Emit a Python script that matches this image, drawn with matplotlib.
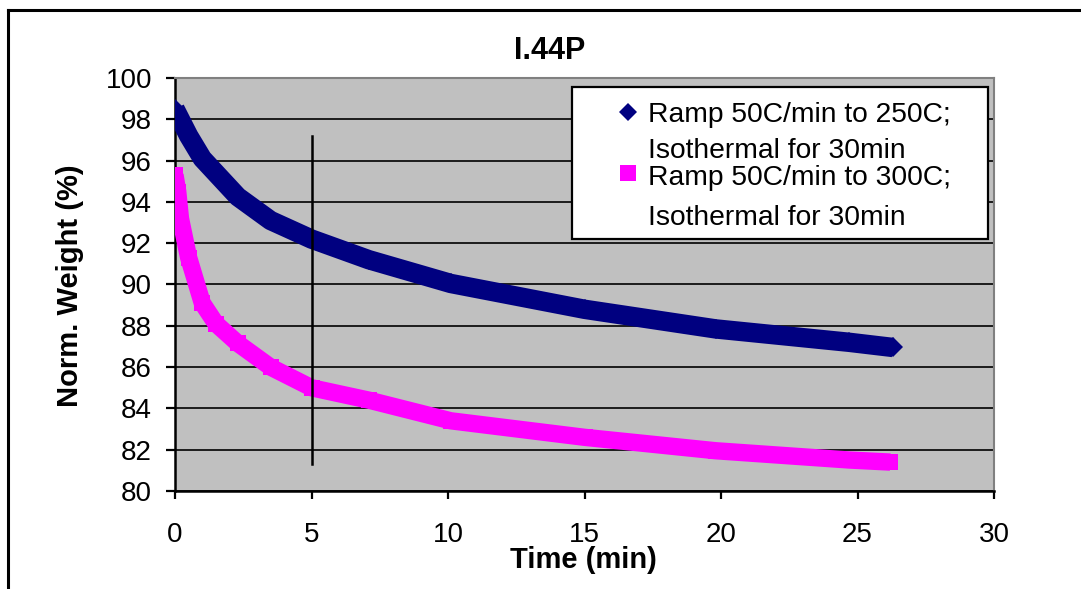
"""
I.44P isothermal weight loss plot (Excel-style chart).
"""

import matplotlib
matplotlib.use('Agg')
import matplotlib.pyplot as plt
from matplotlib.patches import Rectangle
from matplotlib.lines import Line2D

plt.rcParams['font.family'] = ['Liberation Sans', 'DejaVu Sans']

# data
time_250 = [0, 0.5, 1.0, 2.3, 3.5, 5.0, 7.1, 10.1, 15.0, 19.8, 24.7, 26.3]
weight_250 = [98.5, 97.2, 96.1, 94.25, 93.1, 92.2, 91.2, 90.05, 88.8, 87.85, 87.2, 86.95]

time_300 = [0, 0.1, 0.2, 0.5, 1.0, 1.5, 2.3, 3.5, 5.0, 7.1, 10.1, 15.0, 19.8, 24.7, 26.2]
weight_300 = [95.3, 94.5, 93.2, 91.3, 89.1, 88.1, 87.15, 86.0, 85.0, 84.4, 83.4, 82.6, 81.95, 81.5, 81.4]

marker_x = [5, 5]
marker_y = [81.3, 97.2]

legend_lines = [
    ["Ramp 50C/min to 250C;", "Isothermal for 30min"],
    ["Ramp 50C/min to 300C;", "Isothermal for 30min"],
]

x_ticks = [0, 5, 10, 15, 20, 25, 30]
y_ticks = [80, 82, 84, 86, 88, 90, 92, 94, 96, 98, 100]

NAVY = "#000080"
MAGENTA = "#FF00FF"

fig = plt.figure(figsize=(10.81, 5.89), dpi=100)
ax = fig.add_axes([175 / 1081, 98 / 589, 819 / 1081, 413 / 589])
ax.set_facecolor("#C0C0C0")

# outer chart frame (top and left edges only visible)
fig.add_artist(Line2D([8 / 1081, 1.0], [1 - 10 / 589, 1 - 10 / 589],
                      transform=fig.transFigure, color="black", lw=2.2))
fig.add_artist(Line2D([8 / 1081, 8 / 1081], [0, 1 - 10 / 589],
                      transform=fig.transFigure, color="black", lw=2.2))

# data series
ax.plot(time_300, weight_300, color=MAGENTA, lw=12.5, solid_capstyle="butt",
        solid_joinstyle="round", marker="s", markersize=11.5,
        markeredgewidth=0, zorder=3)
ax.plot(time_250, weight_250, color=NAVY, lw=14, solid_capstyle="butt",
        solid_joinstyle="round", marker="D", markersize=10.5,
        markeredgewidth=0, zorder=3)

# vertical marker line at 5 min
ax.plot(marker_x, marker_y, color="black", lw=1.8, zorder=4)

ax.set_xlim(x_ticks[0], x_ticks[-1])
ax.set_ylim(y_ticks[0], y_ticks[-1])
ax.set_xticks(x_ticks)
ax.set_yticks(y_ticks)
ax.yaxis.grid(True, color="black", lw=1.2)
ax.set_axisbelow(True)

for side in ["left", "bottom"]:
    ax.spines[side].set_color("black")
    ax.spines[side].set_linewidth(1.8)
for side in ["top", "right"]:
    ax.spines[side].set_color("#808080")
    ax.spines[side].set_linewidth(1.5)

ax.tick_params(axis="y", direction="out", length=6.5, width=1.6, labelsize=20, pad=10)
ax.tick_params(axis="x", direction="out", length=6, width=1.6, labelsize=20, pad=16)

ax.set_xlabel("Time (min)", fontsize=21, fontweight="bold")
ax.set_ylabel("Norm. Weight (%)", fontsize=21, fontweight="bold")
ax.xaxis.set_label_coords(0.499, -0.133)
ax.yaxis.set_label_coords(-0.111, 0.496)
ax.text(0.458, 1.065, "I.44P", transform=ax.transAxes, fontsize=22,
        fontweight="bold", ha="center", va="center")

# legend box drawn by hand to mimic Excel layout
ax.add_patch(Rectangle((0.4847, 0.610), 0.508, 0.368, transform=ax.transAxes,
                       facecolor="white", edgecolor="black", lw=1.6, zorder=5))
ax.plot([0.553], [0.918], transform=ax.transAxes, marker="D", markersize=9,
        color=NAVY, markeredgewidth=0, zorder=6, clip_on=False)
ax.plot([0.553], [0.771], transform=ax.transAxes, marker="s", markersize=11,
        color=MAGENTA, markeredgewidth=0, zorder=6, clip_on=False)
baselines = [[0.894, 0.8056], [0.741, 0.644]]
for lines, ys in zip(legend_lines, baselines):
    for txt, y in zip(lines, ys):
        ax.text(0.5775, y, txt, transform=ax.transAxes, fontsize=20.3,
                ha="left", va="baseline", zorder=6)

fig.savefig("out.png", dpi=100)
plt.close(fig)
